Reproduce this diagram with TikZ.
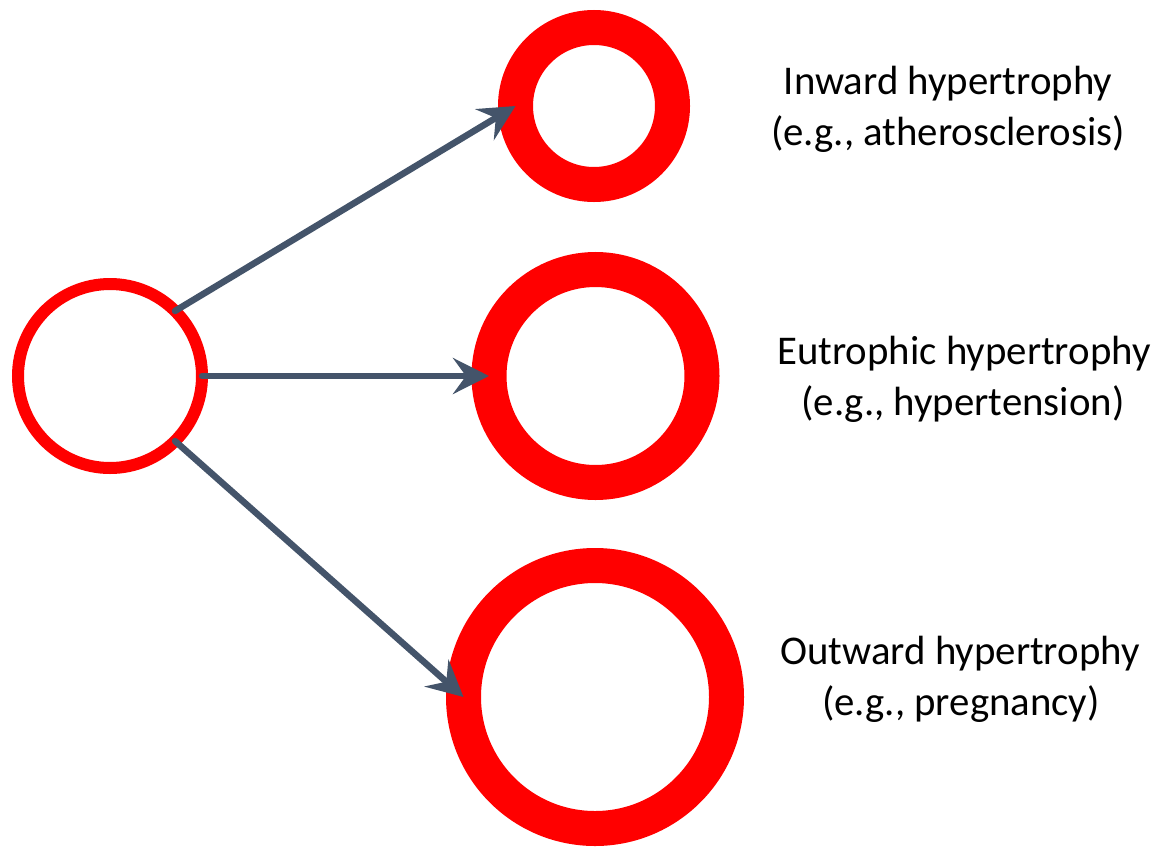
\documentclass[tikz,border=0pt]{standalone}
\usepackage{fontspec}
\setmainfont{Carlito}
\usetikzlibrary{arrows.meta}
\definecolor{ringred}{HTML}{FF0000}
\definecolor{arrowslate}{HTML}{44546A}
\tikzset{
  ring/.style={circle, draw=ringred, fill=white, inner sep=0pt, outer sep=0pt},
  thinring/.style={ring, line width=12pt},
  thickring/.style={ring, line width=35pt},
  arr/.style={draw=arrowslate, line width=6.5pt, line cap=round,
    -{Stealth[length=36pt, width=36pt, inset=13pt]}},
  lbl/.style={anchor=base, inner sep=0pt, font=\fontsize{40.8}{51}\selectfont}
}
\begin{document}
\begin{tikzpicture}[x=1pt, y=-1pt]
\useasboundingbox (0,0) rectangle (1172,846);
\node[thinring, minimum size=184pt] (small) at (110,376) {};
\node[thickring, minimum size=157pt] (inward) at (594,106) {};
\node[thickring, minimum size=213pt] (eutro) at (595.5,376) {};
\node[thickring, minimum size=263pt] (outward) at (595,697) {};
\draw[arr] (small.north east) -- (inward.west);
\draw[arr] (small.east) -- (eutro.west);
\draw[arr] (small.south east) -- (outward.west);
\node[lbl] (l1a) at (948,94) {Inward hypertrophy};
\node[lbl] (l1b) at (948,145) {(e.g., atherosclerosis)};
\node[lbl] (l2a) at (964,364) {Eutrophic hypertrophy};
\node[lbl] (l2b) at (963,415) {(e.g., hypertension)};
\node[lbl] (l3a) at (960,664) {Outward hypertrophy};
\node[lbl] (l3b) at (961,715) {(e.g., pregnancy)};
\end{tikzpicture}
\end{document}
